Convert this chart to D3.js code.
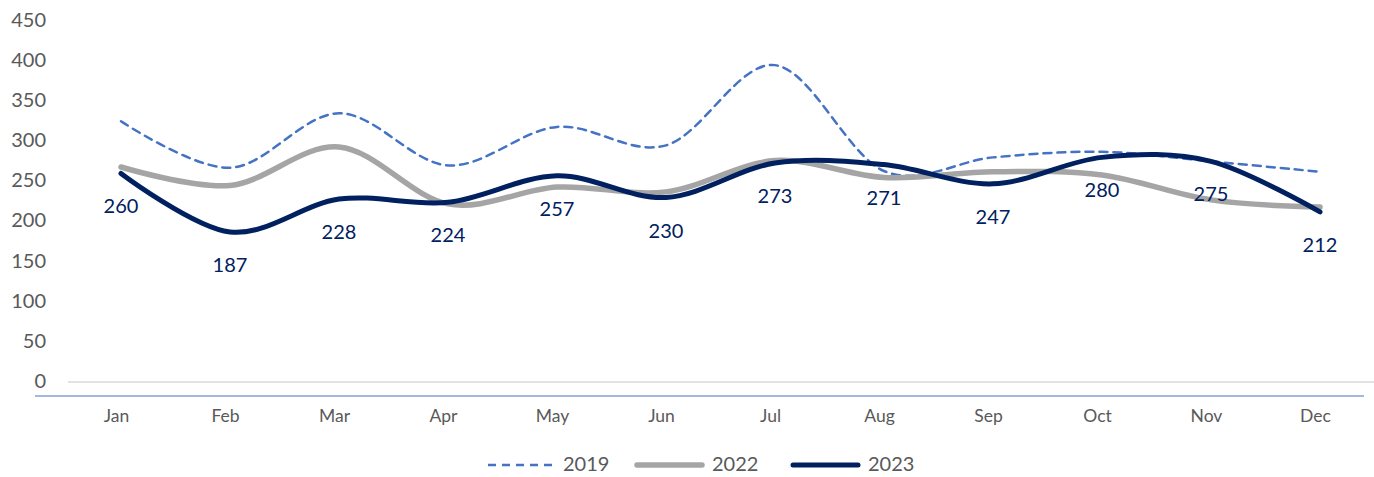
<!DOCTYPE html>
<html><head><meta charset="utf-8">
<script src="https://cdn.jsdelivr.net/npm/d3@7"></script>
<style>html,body{margin:0;padding:0;background:#fff;}svg{display:block;font-family:Lato,"Open Sans",sans-serif;}</style>
</head><body>
<svg id="c" width="1374" height="477"></svg>
<script>
const months = ["Jan","Feb","Mar","Apr","May","Jun","Jul","Aug","Sep","Oct","Nov","Dec"];
const v2019 = [325,267,335,270,318,295,395,263,280,287,275,262];
const v2022 = [268,245,293,222,243,237,276,255,262,258,227,218];
const v2023 = [260,187,228,224,257,230,273,271,247,280,275,212];
const yTicks = [0,50,100,150,200,250,300,350,400,450];
const seriesNames = ["2019","2022","2023"];

const svg = d3.select("#c");
const x = d3.scalePoint().domain(months).range([121,1320]);
const y = d3.scaleLinear().domain([0,450]).range([382,21]);

// zero gridline
svg.append("line").attr("x1",68).attr("x2",1374).attr("y1",y(0)).attr("y2",y(0))
  .attr("stroke","#D9D9D9").attr("stroke-width",1.5);
// bottom blue axis line
svg.append("line").attr("x1",35).attr("x2",1364).attr("y1",396).attr("y2",396)
  .attr("stroke","#4472C4").attr("stroke-width",1.2);

// y axis labels
const yAxis = d3.axisLeft(y).tickValues(yTicks).tickSize(0).tickPadding(0);
const gy = svg.append("g").attr("transform","translate(46,-1)").call(yAxis);
gy.select(".domain").remove();
gy.selectAll("text").attr("font-size",20).attr("fill","#595959").attr("font-family","Lato");

// x axis labels
const xAxis = d3.axisBottom(x).tickSize(0).tickPadding(0);
const gx = svg.append("g").attr("transform","translate(-5,410)").call(xAxis);
gx.select(".domain").remove();
gx.selectAll("text").attr("font-size",17.5).attr("fill","#595959").attr("font-family","Lato");

const line = d3.line().x((d,i)=>x(months[i])).y(d=>y(d)).curve(d3.curveCardinal.tension(0));

const styles = {
  "2019": {color:"#4472C4", width:2.5, dash:"8,6"},
  "2022": {color:"#A5A5A5", width:5.5, dash:null},
  "2023": {color:"#002060", width:5, dash:null}
};
const data = {"2019":v2019,"2022":v2022,"2023":v2023};

seriesNames.forEach(n=>{
  const s = styles[n];
  svg.append("path").datum(data[n]).attr("d",line).attr("fill","none")
    .attr("stroke",s.color).attr("stroke-width",s.width)
    .attr("stroke-dasharray",s.dash).attr("stroke-linecap","round").attr("stroke-linejoin","round");
});

// data labels for 2023
svg.append("g").selectAll("text").data(v2023).join("text")
  .attr("x",(d,i)=>x(months[i])).attr("y",d=>y(d)+35)
  .attr("text-anchor","middle").attr("dominant-baseline","middle")
  .attr("font-size",20).attr("fill","#002060").text(d=>d);

// legend
const legX = [488,637,793];
const lg = svg.append("g");
seriesNames.forEach((n,i)=>{
  const s = styles[n];
  lg.append("line").attr("x1",legX[i]).attr("x2",legX[i]+65).attr("y1",465).attr("y2",465)
    .attr("stroke",s.color).attr("stroke-width",s.width).attr("stroke-dasharray",s.dash)
    .attr("stroke-linecap", s.dash? "butt":"round");
  lg.append("text").attr("x",legX[i]+75).attr("y",466).attr("dominant-baseline","middle")
    .attr("font-size",20).attr("fill","#595959").text(n);
});
</script>
</body></html>
